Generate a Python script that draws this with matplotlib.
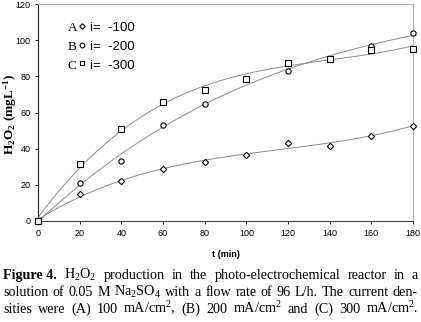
import numpy as np
import matplotlib
matplotlib.use('Agg')
import matplotlib.pyplot as plt

plt.rcParams['mathtext.fontset'] = 'custom'
plt.rcParams['mathtext.rm'] = 'Liberation Serif'
plt.rcParams['mathtext.it'] = 'Liberation Serif:italic'
plt.rcParams['mathtext.bf'] = 'Liberation Serif:bold'

# 数据
t = [0, 20, 40, 60, 80, 100, 120, 140, 160, 180]
h2o2_a = [0, 15.2, 21.9, 28.5, 32.6, 36.5, 43.3, 41.3, 47.2, 52.8]
h2o2_b = [0, 21.1, 33.0, 53.0, 64.8, 78.8, 82.8, 89.8, 96.7, 103.7]
h2o2_c = [0, 31.7, 51.0, 65.7, 72.2, 78.3, 87.4, 89.8, 94.8, 95.0]
series = [('A', h2o2_a, 'D', 'i=  -100'),
          ('B', h2o2_b, 'o', 'i=  -200'),
          ('C', h2o2_c, 's', 'i=  -300')]

W, H = 421, 322
fig = plt.figure(figsize=(W / 100, H / 100), dpi=100)
ax = fig.add_axes([38 / W, 1 - 221 / H, 375 / W, 217 / H])

tt = np.linspace(0, 180, 200)
for letter, y, m, lab in series:
    # 趋势线 (多项式拟合)
    p = np.polyfit(t, y, 3)
    ax.plot(tt, np.polyval(p, tt), color='#8a8a8a', lw=0.7, zorder=2)
    ax.plot(t, y, m, ms=3.8 if m != 'D' else 3.2, mfc='white', mec='black',
            mew=0.8, ls='none', zorder=3, clip_on=False)

ax.set_xlim(0, 180)
ax.set_ylim(0, 120)
ax.set_xticks(range(0, 181, 20))
ax.set_yticks(range(0, 121, 20))
ax.tick_params(labelsize=6.5, length=2.5, width=0.6, pad=3)
for lbl in ax.get_xticklabels() + ax.get_yticklabels():
    lbl.set_family('Liberation Sans')
ax.spines['left'].set_color('#222222')
ax.spines['bottom'].set_color('#444444')
ax.spines['top'].set_color('#b0b0b0')
ax.spines['right'].set_color('#b0b0b0')
for s in ax.spines.values():
    s.set_linewidth(0.8)

ax.set_xlabel('t (min)', fontsize=6.5, fontweight='bold', family='Liberation Sans')
ax.xaxis.set_label_coords(0.5, -(250 - 221) / 217)
ax.set_ylabel(r'H$_\mathbf{2}$O$_\mathbf{2}$ (mgL$^\mathbf{-1}$)', fontsize=9.5,
              fontweight='bold', family='Liberation Serif', va='center')
ax.yaxis.set_label_coords(-(38 - 10) / 375, 0.49)

# 图例
rows_y = [0.89, 0.80, 0.716]
for (letter, y, m, lab), ry in zip(series, rows_y):
    ax.text(0.079, ry, letter, transform=ax.transAxes, fontsize=9.5,
            family='Liberation Serif', va='center')
    ax.plot([0.118], [ry + 0.01], m, transform=ax.transAxes, ms=3.4 if m != 'D' else 2.8,
            mfc='white', mec='black', mew=0.8)
    ax.text(0.139, ry, lab, transform=ax.transAxes, fontsize=9.5,
            family='Liberation Sans', va='center')

# 图注 (两端对齐)
lines = [
    [('Figure 4.', 'bold'), ('H$_2$O$_2$', 'normal'), ('production', 'normal'), ('in', 'normal'),
     ('the', 'normal'), ('photo-electrochemical', 'normal'), ('reactor', 'normal'),
     ('in', 'normal'), ('a', 'normal')],
    [(w, 'normal') for w in 'solution of 0.05 M Na$_2$SO$_4$ with a flow rate of 96 L/h. The current den-'.split(' ')],
    [(w, 'normal') for w in 'sities were (A) 100 mA/cm$^2$, (B) 200 mA/cm$^2$ and (C) 300 mA/cm$^2$.'.split(' ')],
]
base_y = [279, 296, 313]
r = fig.canvas.get_renderer()
for words, by in zip(lines, base_y):
    txts = [fig.text(0, 1 - by / H, w, fontsize=10.2, fontweight=wt,
                     family='Liberation Serif', va='baseline') for w, wt in words]
    widths = [tx.get_window_extent(r).width for tx in txts]
    x0, x1 = 3, 418
    gap = (x1 - x0 - sum(widths)) / (len(txts) - 1)
    x = x0
    for tx, wd in zip(txts, widths):
        tx.set_x(x / W)
        x += wd + gap

fig.savefig('out.png', dpi=100)
